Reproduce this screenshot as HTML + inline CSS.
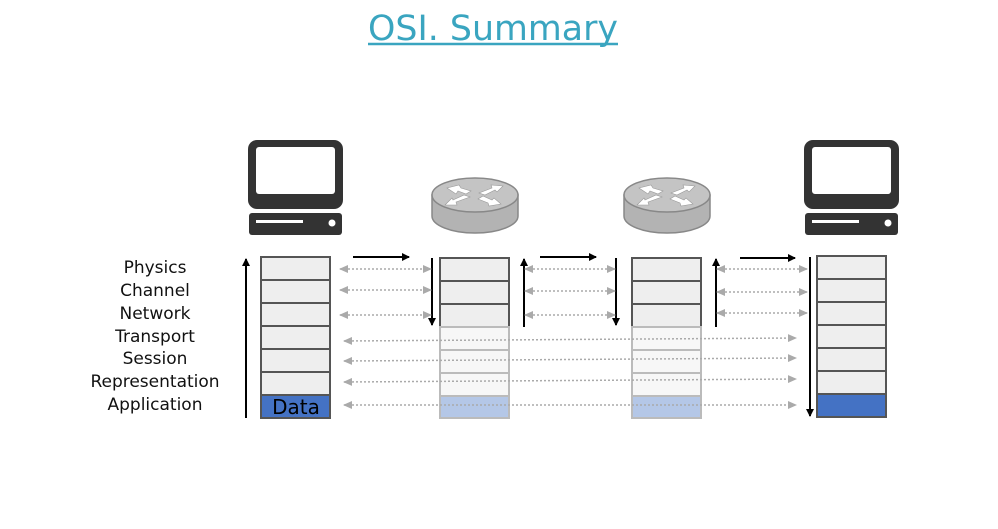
<!DOCTYPE html>
<html><head><style>body{margin:0;background:#fff}svg{display:block}</style></head><body>
<svg width="998" height="529" xmlns="http://www.w3.org/2000/svg" font-family="Liberation Sans, DejaVu Sans, sans-serif">
<defs>
<marker id="bk" markerWidth="8" markerHeight="8" refX="7" refY="4" orient="auto" markerUnits="userSpaceOnUse"><path d="M0,0L8,4L0,8z" fill="#000"/></marker>
<marker id="gy" markerWidth="9" markerHeight="8" refX="8" refY="4" orient="auto" markerUnits="userSpaceOnUse"><path d="M0,0L9,4L0,8z" fill="#aaa"/></marker>
<marker id="gys" markerWidth="9" markerHeight="8" refX="1" refY="4" orient="auto" markerUnits="userSpaceOnUse"><path d="M9,0L0,4L9,8z" fill="#aaa"/></marker>
<g id="pc"><rect x="0" y="0" width="95" height="69" rx="9" fill="#333"/><rect x="8" y="7" width="79" height="47" rx="3" fill="#fff"/><rect x="1" y="73" width="93" height="22" rx="3" fill="#333"/><rect x="8" y="80" width="47" height="3" fill="#fff"/><circle cx="84" cy="83" r="3.5" fill="#fff"/></g>
<g id="rt"><path d="M-43,0 L-43,21 A43,17 0 0 0 43,21 L43,0 Z" fill="#b3b3b3" stroke="#888" stroke-width="1.5"/><ellipse cx="0" cy="0" rx="43" ry="17" fill="#c4c4c4" stroke="#888" stroke-width="1.5"/>
<g fill="#fff" stroke="#999" stroke-width=".6">
<path d="M-28,-7 L-16,-10 L-14,-7 L-4,-4 L-9,-1 L-17,-4 L-19,-1 z"/>
<path d="M28,-9 L16,-10 L17,-7 L4,-2 L10,0 L20,-5 L22,-3 z"/>
<path d="M-30,10 L-18,10 L-19,7 L-5,2 L-11,0 L-22,5 L-23,3 z"/>
<path d="M26,9 L14,11 L13,8 L3,4 L8,1 L17,5 L19,3 z"/>
</g></g>
</defs>
<text x="493" y="40" text-anchor="middle" font-size="35" fill="#3aa5c0" textLength="250" lengthAdjust="spacingAndGlyphs" font-family="DejaVu Sans, sans-serif">OSI. Summary</text>
<line x1="368" y1="44" x2="618" y2="44" stroke="#3aa5c0" stroke-width="2.5"/>
<use href="#pc" x="248" y="140"/>
<use href="#pc" x="804" y="140"/>
<use href="#rt" x="475" y="195"/>
<use href="#rt" x="667" y="195"/>
<g font-size="17" text-anchor="middle" fill="#111" font-family="DejaVu Sans, sans-serif">
<text x="155" y="273">Physics</text><text x="155" y="296">Channel</text><text x="155" y="319">Network</text><text x="155" y="342">Transport</text><text x="155" y="364">Session</text><text x="155" y="387">Representation</text><text x="155" y="410">Application</text>
</g>
<g stroke="#555" stroke-width="2" fill="#eee">
<rect x="261" y="257" width="69" height="23"/><rect x="261" y="280" width="69" height="23"/><rect x="261" y="303" width="69" height="23"/><rect x="261" y="326" width="69" height="23"/><rect x="261" y="349" width="69" height="23"/><rect x="261" y="372" width="69" height="23"/><rect x="261" y="395" width="69" height="23" fill="#4472c4"/>
<rect x="817" y="256" width="69" height="23"/><rect x="817" y="279" width="69" height="23"/><rect x="817" y="302" width="69" height="23"/><rect x="817" y="325" width="69" height="23"/><rect x="817" y="348" width="69" height="23"/><rect x="817" y="371" width="69" height="23"/><rect x="817" y="394" width="69" height="23" fill="#4472c4"/>
<rect x="440" y="258" width="69" height="23"/><rect x="440" y="281" width="69" height="23"/><rect x="440" y="304" width="69" height="23"/>
<rect x="632" y="258" width="69" height="23"/><rect x="632" y="281" width="69" height="23"/><rect x="632" y="304" width="69" height="23"/>
</g>
<g stroke="#bbb" stroke-width="2" fill="#f7f7f7">
<rect x="440" y="327" width="69" height="23"/><rect x="440" y="350" width="69" height="23"/><rect x="440" y="373" width="69" height="23"/><rect x="440" y="396" width="69" height="22" fill="#b4c7e7"/>
<rect x="632" y="327" width="69" height="23"/><rect x="632" y="350" width="69" height="23"/><rect x="632" y="373" width="69" height="23"/><rect x="632" y="396" width="69" height="22" fill="#b4c7e7"/>
</g>
<text x="296" y="414" text-anchor="middle" font-size="20" fill="#000" font-family="DejaVu Sans, sans-serif">Data</text>
<g stroke="#000" stroke-width="2" marker-end="url(#bk)">
<line x1="246" y1="418" x2="246" y2="259"/>
<line x1="353" y1="257" x2="409" y2="257"/>
<line x1="432" y1="258" x2="432" y2="325"/>
<line x1="524" y1="327" x2="524" y2="259"/>
<line x1="540" y1="257" x2="596" y2="257"/>
<line x1="616" y1="258" x2="616" y2="325"/>
<line x1="716" y1="327" x2="716" y2="259"/>
<line x1="740" y1="258" x2="795" y2="258"/>
<line x1="810" y1="257" x2="810" y2="416"/>
</g>
<g stroke="#aaa" stroke-width="1.5" stroke-dasharray="2,2" marker-end="url(#gy)" marker-start="url(#gys)">
<line x1="340" y1="269" x2="431" y2="269"/><line x1="340" y1="290" x2="431" y2="290"/><line x1="340" y1="315" x2="431" y2="315"/>
<line x1="525" y1="269" x2="615" y2="269"/><line x1="525" y1="291" x2="615" y2="291"/><line x1="525" y1="315" x2="615" y2="315"/>
<line x1="717" y1="269" x2="807" y2="269"/><line x1="717" y1="292" x2="807" y2="292"/><line x1="717" y1="313" x2="807" y2="313"/>
<line x1="344" y1="341" x2="796" y2="338"/><line x1="344" y1="361" x2="796" y2="358"/><line x1="344" y1="382" x2="796" y2="379"/><line x1="344" y1="405" x2="796" y2="405"/>
</g>
</svg>
</body></html>
